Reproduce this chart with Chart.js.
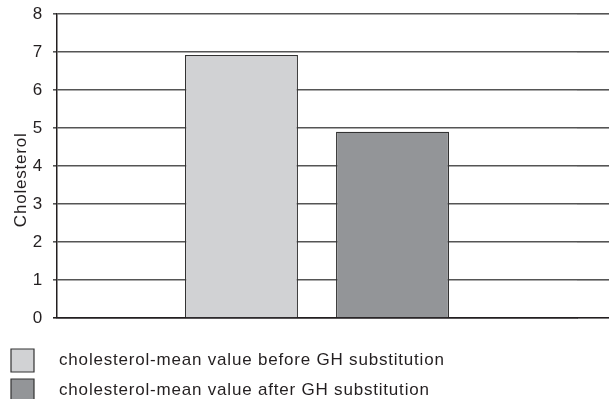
<!DOCTYPE html>
<html>
<head>
<meta charset="utf-8">
<script src="https://cdn.jsdelivr.net/npm/chart.js@4.4.0/dist/chart.umd.min.js"></script>
<style>
  html, body { margin: 0; padding: 0; background: #fff; overflow: hidden; }
  #wrap { position: relative; width: 609px; height: 412px; }
</style>
</head>
<body>
<div id="wrap"><canvas id="cholChart"></canvas></div>
<script>
// data
const categories = ['Cholesterol'];
const seriesLabels = [
  'cholesterol-mean value before GH substitution',
  'cholesterol-mean value after GH substitution'
];
const beforeValues = [6.92];
const afterValues = [4.9];
const seriesColors = ['#d1d2d4', '#939598'];
const yMin = 0;
const yMax = 8;
const yStep = 1;

const FONT = 'Liberation Sans, Arial, Helvetica, sans-serif';
Chart.defaults.font.family = FONT;
Chart.defaults.color = '#231f20';

function gridColor(ctx) {
  return ctx.tick && ctx.tick.value === 0 ? '#231f20' : '#555555';
}

// the original type is a little spaced out
const spacing = {
  id: 'spacing',
  beforeUpdate(chart) { chart.ctx.letterSpacing = '0.8px'; },
  beforeDraw(chart) { chart.ctx.letterSpacing = '0.8px'; }
};

const ctx = document.getElementById('cholChart');
new Chart(ctx, {
  type: 'bar',
  plugins: [spacing],
  data: {
    labels: categories,
    datasets: [
      {
        label: seriesLabels[0],
        data: beforeValues,
        backgroundColor: seriesColors[0],
        borderColor: '#333333',
        borderWidth: 1.2
      },
      {
        label: seriesLabels[1],
        data: afterValues,
        backgroundColor: seriesColors[1],
        borderColor: '#333333',
        borderWidth: 1.2
      }
    ]
  },
  options: {
    responsive: true,
    maintainAspectRatio: false,
    animation: false,
    categoryPercentage: 0.581,
    barPercentage: 0.748,
    layout: { padding: { top: 14, left: 4, right: 0, bottom: 0 } },
    plugins: {
      tooltip: { enabled: false },
      legend: {
        position: 'bottom',
        align: 'start',
        labels: {
          boxWidth: 23,
          boxHeight: 23,
          padding: 7,
          color: '#231f20',
          font: { size: 17 },
          generateLabels(chart) {
            const items = Chart.defaults.plugins.legend.labels.generateLabels(chart);
            items.forEach(it => {
              it.text = '   ' + it.text;
              it.lineWidth = 1.2;
              it.strokeStyle = '#333333';
            });
            return items;
          }
        }
      }
    },
    scales: {
      x: {
        ticks: { display: false },
        grid: { display: false, drawTicks: false },
        border: { display: true, color: '#231f20', width: 1.5 },
        afterFit(scale) { scale.height = 24; }
      },
      y: {
        min: yMin,
        max: yMax,
        ticks: { stepSize: yStep, padding: 10, font: { size: 17 }, color: '#231f20' },
        grid: { color: gridColor, lineWidth: 1.6, tickLength: 4 },
        border: { display: true, color: '#231f20', width: 1.5 },
        title: {
          display: true,
          text: 'Cholesterol     ',
          font: { size: 17 },
          color: '#231f20',
          padding: { top: 7, bottom: 3 }
        },
        afterFit(scale) {
          scale.width = 53;
          scale.paddingTop = 0;
          scale.paddingBottom = 0;
        }
      },
      // right-hand stub so the grid runs to the edge of the frame
      y2: {
        position: 'right',
        min: yMin,
        max: yMax,
        ticks: { display: false, stepSize: yStep },
        grid: { drawOnChartArea: false, color: gridColor, lineWidth: 1.6, tickLength: 32 },
        border: { display: false }
      }
    }
  }
});
</script>
</body>
</html>
